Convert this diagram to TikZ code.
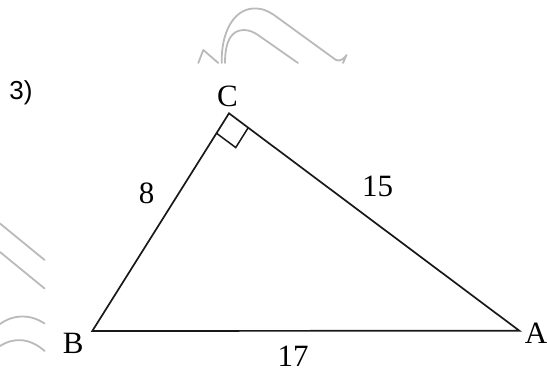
\documentclass[tikz,border=0pt]{standalone}
\usepackage{fontspec}
\setmainfont{Liberation Serif}
\newfontfamily\numsans{Liberation Sans}
\usetikzlibrary{calc}
\begin{document}
\begin{tikzpicture}[x=1pt,y=-1pt,
  side/.style={line width=1.7pt, line join=miter, draw=black!90},
  anglemark/.style={line width=1.5pt, draw=black!90},
  wm/.style={draw=black!27, line width=1.8pt, line cap=round, line join=round},
  vlabel/.style={font=\fontsize{31}{31}\selectfont, inner sep=0pt},
  qlabel/.style={font=\numsans\fontsize{26}{26}\selectfont, inner sep=0pt}]
\useasboundingbox (0,0) rectangle (547,375);
% watermark traces
\draw[wm] (198.3,63) -- (203.3,50) -- (218.3,63);
\draw[wm] (221.7,63) .. controls (221,35) and (232,10) .. (253,8.5)
  .. controls (262,8) and (268,11) .. (274,15) -- (336,60)
  .. controls (340,62) and (345,58) .. (346.5,55) -- (343,63);
\draw[wm] (225,63) .. controls (225,40) and (232,30) .. (244,30)
  .. controls (250,30) and (255,33) .. (258,35) -- (298,63);
\draw[wm] (0,223.5) -- (44.6,260);
\draw[wm] (0,252) -- (44.6,288.5);
\draw[wm] (0,324) .. controls (14,314) and (30,314) .. (44.6,323.5);
\draw[wm] (0,346) .. controls (14,337) and (30,338) .. (44.6,351);
% triangle
\coordinate (B) at (92.3,331);
\coordinate (C) at (229,113.3);
\coordinate (A) at (519.3,330.7);
\draw[side] (B) -- (C) -- (A) -- cycle;
% right angle mark
\coordinate (p) at ($(C)!23.5pt!(B)$);
\coordinate (r) at ($(C)!24pt!(A)$);
\coordinate (q) at ($(p)+(r)-(C)$);
\draw[anglemark] (p) -- (q) -- (r);
% labels
\node[vlabel] (lC) at (227.5,96) {C};
\node[vlabel] (lB) at (73.3,343.5) {B};
\node[vlabel] (lA) at (536,333) {A};
\node[vlabel] (l8) at (146.7,193.3) {8};
\node[vlabel] (l15) at (377.5,186.7) {15};
\node[vlabel] (l17) at (293,356) {17};
\node[qlabel] (q3) at (21,92.5) {3)};
\end{tikzpicture}
\end{document}
